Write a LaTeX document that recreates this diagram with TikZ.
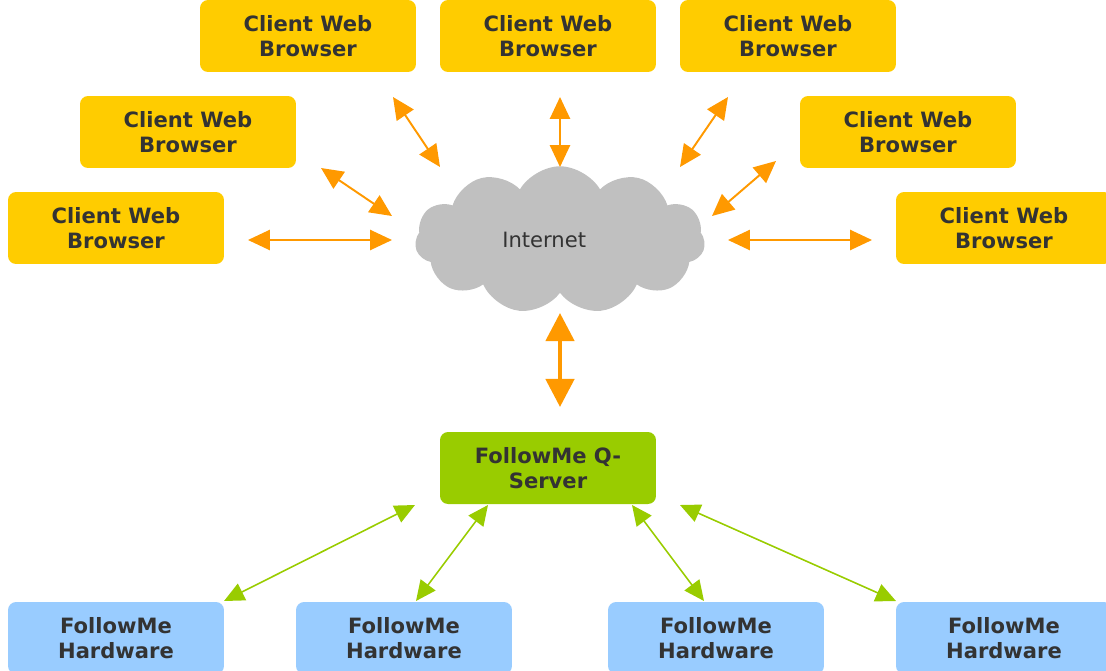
\documentclass[tikz,border=0pt]{standalone}
\usepackage{fontspec}
\setmainfont{DejaVu Sans}
\usetikzlibrary{shapes.symbols,arrows.meta}

\definecolor{clientyellow}{HTML}{FFCC00}
\definecolor{servergreen}{HTML}{99CC00}
\definecolor{hwblue}{HTML}{99CCFF}
\definecolor{linkorange}{HTML}{FF9900}
\definecolor{cloudgray}{HTML}{C0C0C0}
\definecolor{darktext}{HTML}{333333}

\begin{document}
\begin{tikzpicture}[x=0.02cm, y=-0.02cm,
    box/.style={rounded corners=0.16cm, minimum width=4.32cm, minimum height=1.44cm,
        inner sep=0pt, align=center, text=darktext,
        font=\bfseries\fontsize{12}{14.2}\selectfont},
    client/.style={box, fill=clientyellow},
    server/.style={box, fill=servergreen},
    hardware/.style={box, fill=hwblue},
    weblink/.style={linkorange, line width=1.1pt,
        {Triangle[length=12.5pt,width=11.5pt]}-{Triangle[length=12.5pt,width=11.5pt]}},
    mainlink/.style={linkorange, line width=2.6pt,
        {Triangle[length=16pt,width=16pt]}-{Triangle[length=16pt,width=16pt]}},
    hwlink/.style={servergreen, line width=0.9pt,
        {Triangle[length=11.5pt,width=10.5pt]}-{Triangle[length=11.5pt,width=10.5pt]}}]

    \path[use as bounding box] (0,0) rectangle (1106,670);
    \clip (0,0) rectangle (1106,670);

    % clients
    \node[client] (cw1) at (116,228) {Client Web\\Browser};
    \node[client] (cw2) at (188,132) {Client Web\\Browser};
    \node[client] (cw3) at (308,36) {Client Web\\Browser};
    \node[client] (cw4) at (548,36) {Client Web\\Browser};
    \node[client] (cw5) at (788,36) {Client Web\\Browser};
    \node[client] (cw6) at (908,132) {Client Web\\Browser};
    \node[client] (cw7) at (1004,228) {Client Web\\Browser};

    % internet
    \node[cloud, cloud puffs=11, cloud puff arc=120, aspect=2,
        minimum width=5.8cm, minimum height=2.95cm, inner sep=0pt,
        fill=cloudgray, text=darktext, font=\fontsize{12}{14}\selectfont]
        (net) at (560,240) {\hspace*{-18pt}Internet};

    % server and hardware
    \node[server] (qs) at (548,468) {FollowMe Q-\\Server};
    \node[hardware] (hw1) at (116,638) {FollowMe\\Hardware};
    \node[hardware] (hw2) at (404,638) {FollowMe\\Hardware};
    \node[hardware] (hw3) at (716,638) {FollowMe\\Hardware};
    \node[hardware] (hw4) at (1004,638) {FollowMe\\Hardware};

    % link ends
    \coordinate (l1a) at (248,240); \coordinate (l1b) at (392,240);
    \coordinate (l2a) at (321,168); \coordinate (l2b) at (392,216);
    \coordinate (l3a) at (393,97);  \coordinate (l3b) at (440,167);
    \coordinate (l4a) at (560,97);  \coordinate (l4b) at (560,167);
    \coordinate (l5a) at (728,97);  \coordinate (l5b) at (680,167);
    \coordinate (l6a) at (776,161); \coordinate (l6b) at (712,216);
    \coordinate (l7a) at (872,240); \coordinate (l7b) at (728,240);
    \coordinate (m1) at (560,313);  \coordinate (m2) at (560,407);
    \coordinate (h1a) at (415,505); \coordinate (h1b) at (224,601);
    \coordinate (h2a) at (488,505); \coordinate (h2b) at (416,601);
    \coordinate (h3a) at (632,505); \coordinate (h3b) at (704,601);
    \coordinate (h4a) at (680,505); \coordinate (h4b) at (896,601);

    %links
    \foreach \i in {1,...,7}
        \draw[weblink] (l\i a) -- (l\i b);
    \draw[mainlink] (m1) -- (m2);
    \foreach \i in {1,...,4}
        \draw[hwlink] (h\i a) -- (h\i b);

\end{tikzpicture}
\end{document}
